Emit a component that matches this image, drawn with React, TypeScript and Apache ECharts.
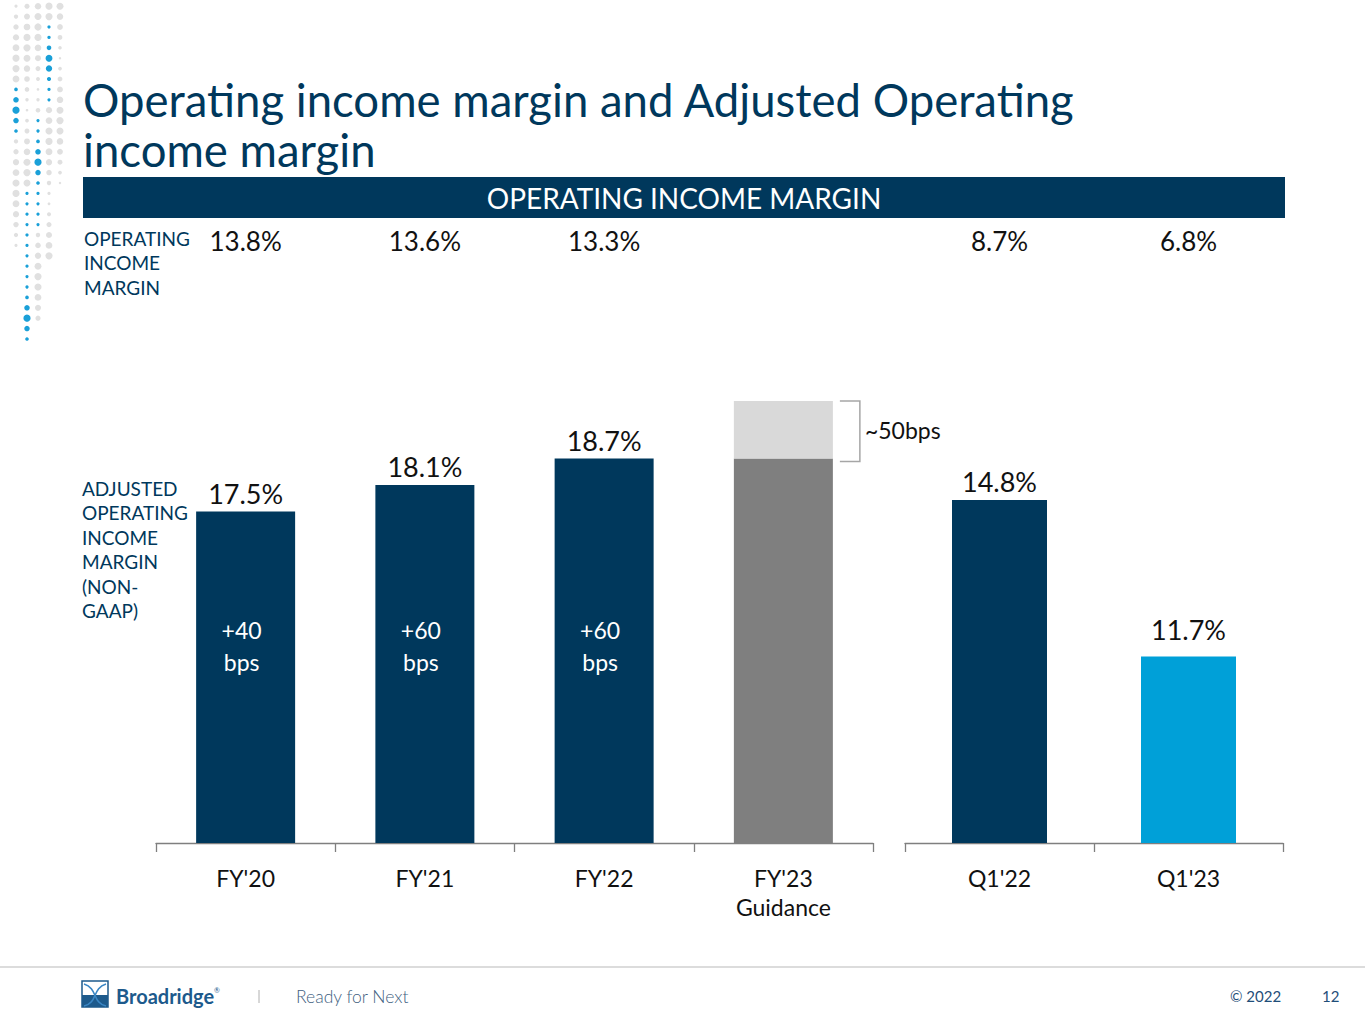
import React, { useEffect, useRef } from 'react';
import * as echarts from 'echarts';

// left panel: fiscal years
const leftCategories = ["FY'20", "FY'21", "FY'22", "FY'23\nGuidance"];
const adjustedMargin = [17.5, 18.1, 18.7, '-'];
const bpsChange = ['+40', '+60', '+60', ''];
const guidanceBase = ['-', '-', '-', 18.7];
const guidanceRange = ['-', '-', '-', 1.3]; // drawn span of the guidance band
const guidanceLabel = '~50bps';
const operatingMarginLeft = ['13.8%', '13.6%', '13.3%', ''];

// right panel: quarters
const rightCategories = ["Q1'22", "Q1'23"];
const quarterAdjusted = [14.8, 11.7];
const operatingMarginRight = ['8.7%', '6.8%'];

const NAVY = '#00385c';
const LIGHT_BLUE = '#00a0d8';
const FONT = 'Lato';

// decorative dot pattern, top left
const buildDots = () => {
  const cols = [16, 27, 38, 49, 60];
  const blue = [
    { c: 3, y0: 25, y1: 110, peak: 62 },
    { c: 0, y0: 86, y1: 131, peak: 110 },
    { c: 2, y0: 116, y1: 227, peak: 162 },
    { c: 1, y0: 190, y1: 342, peak: 318 },
  ];
  const grayMax = [253, 187, 320, 263, 183];
  const dots: any[] = [];
  cols.forEach((x, ci) => {
    for (let k = -2; k < 31; k++) {
      const y = 27 + 10.4 * k;
      const seg = blue.find((b) => b.c === ci && y >= b.y0 && y <= b.y1);
      if (seg) {
        const r = 1.6 + 2 * Math.exp(-Math.pow((y - seg.peak) / 14, 2));
        dots.push({ type: 'circle', shape: { cx: x, cy: y, r }, style: { fill: '#1aa0d8' }, silent: true });
      } else if (y <= grayMax[ci]) {
        const r = 1.2 + 2.4 * Math.abs(Math.sin((y + ci * 17) / 40));
        dots.push({ type: 'circle', shape: { cx: x, cy: y, r }, style: { fill: '#e0e0e0' }, silent: true });
      }
    }
  });
  return dots;
};

const App: React.FC = () => {
  const chartRef = useRef<HTMLDivElement>(null);

  useEffect(() => {
    if (!chartRef.current) return;
    const chart = echarts.init(chartRef.current, undefined, { renderer: 'svg' });

    const axisStyle = { color: '#7f7f7f', width: 1.3 };
    const bottomAxis = (gridIndex: number, data: string[]) => ({
      type: 'category',
      gridIndex,
      data,
      axisLine: { show: true, lineStyle: axisStyle },
      axisTick: { show: true, interval: 0, inside: false, length: 9, lineStyle: axisStyle },
      axisLabel: { fontSize: 23, color: '#111', margin: 20, lineHeight: 29, fontFamily: FONT },
    });
    const topAxis = (gridIndex: number, data: string[]) => ({
      type: 'category',
      gridIndex,
      position: 'top',
      data,
      axisLine: { show: false },
      axisTick: { show: false },
      axisLabel: { fontSize: 26, color: '#111', margin: 125, fontFamily: FONT },
    });

    const valueLabel = {
      show: true,
      position: 'top',
      distance: 5,
      formatter: '{c}%',
      fontSize: 27,
      color: '#111',
      fontFamily: FONT,
    };

    const option: any = {
      animation: false,
      grid: [
        { left: 156, width: 717, top: 379, height: 464 },
        { left: 905, width: 378, top: 379, height: 464 },
      ],
      xAxis: [
        bottomAxis(0, leftCategories),
        bottomAxis(1, rightCategories),
        topAxis(0, operatingMarginLeft),
        topAxis(1, operatingMarginRight),
      ],
      yAxis: [
        { type: 'value', gridIndex: 0, min: 10, max: 20.5, show: false },
        { type: 'value', gridIndex: 1, min: 8, max: 17.2, show: false },
      ],
      series: [
        {
          name: 'Adjusted operating income margin',
          type: 'bar',
          xAxisIndex: 0,
          yAxisIndex: 0,
          data: adjustedMargin,
          barWidth: 99,
          barGap: '-100%',
          itemStyle: { color: NAVY },
          label: valueLabel,
        },
        {
          name: 'bps change',
          type: 'bar',
          xAxisIndex: 0,
          yAxisIndex: 0,
          data: adjustedMargin,
          barWidth: 99,
          barGap: '-100%',
          itemStyle: { color: 'rgba(0,0,0,0)' },
          label: {
            show: true,
            position: 'insideBottom',
            distance: 165,
            offset: [-4, 0],
            formatter: (p: any) => (bpsChange[p.dataIndex] ? bpsChange[p.dataIndex] + '\nbps' : ''),
            fontSize: 23,
            lineHeight: 32,
            color: '#fff',
            fontFamily: FONT,
          },
        },
        {
          name: 'FY23 guidance',
          type: 'bar',
          xAxisIndex: 0,
          yAxisIndex: 0,
          stack: 'guidance',
          data: guidanceBase,
          barWidth: 99,
          barGap: '-100%',
          itemStyle: { color: '#7f7f7f' },
        },
        {
          name: 'FY23 guidance range',
          type: 'bar',
          xAxisIndex: 0,
          yAxisIndex: 0,
          stack: 'guidance',
          data: guidanceRange,
          barWidth: 99,
          barGap: '-100%',
          itemStyle: { color: '#d9d9d9' },
        },
        {
          name: 'Quarterly adjusted margin',
          type: 'bar',
          xAxisIndex: 1,
          yAxisIndex: 1,
          data: [
            { value: quarterAdjusted[0], itemStyle: { color: NAVY } },
            { value: quarterAdjusted[1], itemStyle: { color: LIGHT_BLUE }, label: { distance: 13 } },
          ],
          barWidth: 95,
          label: valueLabel,
        },
      ],
    };

    chart.setOption(option);

    // bracket next to the guidance band, placed from the axis scale
    const top = chart.convertToPixel({ xAxisIndex: 0, yAxisIndex: 0 }, [3, (guidanceBase[3] as number) + (guidanceRange[3] as number)]);
    const base = chart.convertToPixel({ xAxisIndex: 0, yAxisIndex: 0 }, [3, guidanceBase[3] as number]);
    const bx = top[0] + 49.5 + 7;

    const graphic: any[] = [
      ...buildDots(),
      {
        type: 'text',
        x: 83,
        y: 99,
        style: { text: 'Operating income margin and Adjusted Operating', fill: NAVY, fontSize: 45.5, fontFamily: FONT, verticalAlign: 'middle' },
      },
      {
        type: 'text',
        x: 83,
        y: 149,
        style: { text: 'income margin', fill: NAVY, fontSize: 45.5, fontFamily: FONT, verticalAlign: 'middle' },
      },
      { type: 'rect', shape: { x: 83, y: 177, width: 1202, height: 41 }, style: { fill: NAVY } },
      {
        type: 'text',
        x: 684,
        y: 198,
        style: { text: 'OPERATING INCOME MARGIN', fill: '#fff', fontSize: 28, fontFamily: FONT, align: 'center', verticalAlign: 'middle' },
      },
      {
        type: 'text',
        x: 84,
        y: 226,
        style: { text: 'OPERATING\nINCOME\nMARGIN', fill: NAVY, fontSize: 19, lineHeight: 24.5, fontFamily: FONT, verticalAlign: 'top' },
      },
      {
        type: 'text',
        x: 82,
        y: 476,
        style: {
          text: 'ADJUSTED\nOPERATING\nINCOME\nMARGIN\n(NON-\nGAAP)',
          fill: NAVY,
          fontSize: 19,
          lineHeight: 24.5,
          fontFamily: FONT,
          verticalAlign: 'top',
        },
      },
      {
        type: 'polyline',
        shape: { points: [[bx, top[1]], [bx + 20, top[1]], [bx + 20, base[1] + 3], [bx, base[1] + 3]] },
        style: { stroke: '#a6a6a6', lineWidth: 1.5, fill: 'none' },
      },
      {
        type: 'text',
        x: bx + 25,
        y: (top[1] + base[1]) / 2,
        style: { text: guidanceLabel, fill: '#111', fontSize: 23, fontFamily: FONT, verticalAlign: 'middle' },
      },
      // footer
      { type: 'line', shape: { x1: 0, y1: 967, x2: 1365, y2: 967 }, style: { stroke: '#d0d0d0', lineWidth: 1.5 } },
      { type: 'rect', shape: { x: 82, y: 981, width: 26, height: 26 }, style: { fill: '#fff', stroke: '#1d5a8c', lineWidth: 1.5 } },
      { type: 'rect', shape: { x: 82, y: 995, width: 26, height: 12 }, style: { fill: '#1d5a8c' } },
      {
        type: 'bezierCurve',
        shape: { x1: 84, y1: 984, x2: 106, y2: 1006, cpx1: 98, cpy1: 988, cpx2: 92, cpy2: 1003 },
        style: { stroke: '#3a86c4', lineWidth: 1.6, fill: 'none' },
      },
      {
        type: 'bezierCurve',
        shape: { x1: 106, y1: 984, x2: 84, y2: 1006, cpx1: 92, cpy1: 988, cpx2: 98, cpy2: 1003 },
        style: { stroke: '#3a86c4', lineWidth: 1.6, fill: 'none' },
      },
      {
        type: 'text',
        x: 116,
        y: 996,
        style: { text: 'Broadridge', fill: '#1d5a8c', fontSize: 20, fontWeight: 'bold', fontFamily: FONT, verticalAlign: 'middle' },
      },
      { type: 'text', x: 214, y: 990, style: { text: '®', fill: '#1d5a8c', fontSize: 7, fontFamily: FONT, verticalAlign: 'middle' } },
      { type: 'line', shape: { x1: 259, y1: 990, x2: 259, y2: 1003 }, style: { stroke: '#b0b0b0', lineWidth: 1 } },
      {
        type: 'text',
        x: 296,
        y: 996,
        style: { text: 'Ready for Next', fill: '#3f5f7f', fontSize: 17.5, fontWeight: 300, fontFamily: FONT, verticalAlign: 'middle' },
      },
      {
        type: 'text',
        x: 1230,
        y: 996,
        style: { text: '© 2022', fill: '#1f4e79', fontSize: 15, fontFamily: FONT, verticalAlign: 'middle' },
      },
      {
        type: 'text',
        x: 1322,
        y: 996,
        style: { text: '12', fill: '#1f4e79', fontSize: 15, fontFamily: FONT, verticalAlign: 'middle' },
      },
    ];

    chart.setOption({ graphic });

    return () => {
      chart.dispose();
    };
  }, []);

  return (
    <div
      ref={chartRef}
      style={{ position: 'absolute', left: 0, top: 0, width: '1365px', height: '1024px', background: '#fff' }}
    ></div>
  );
};

export default App;
